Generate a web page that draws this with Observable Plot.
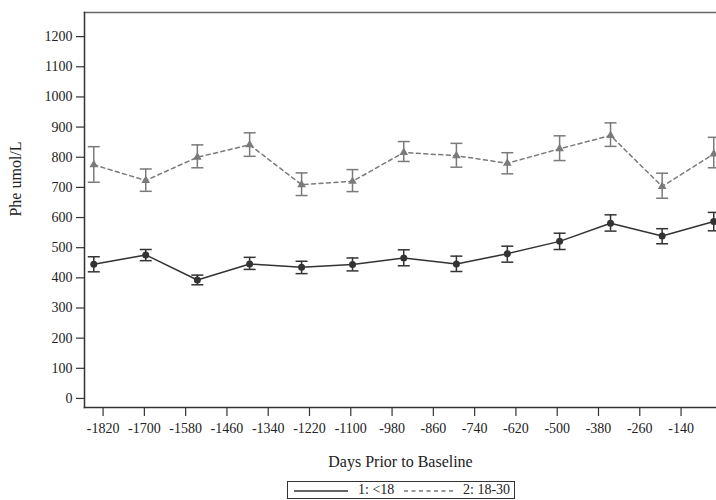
<!DOCTYPE html>
<html>
<head>
<meta charset="utf-8">
<script src="https://cdn.jsdelivr.net/npm/d3@7"></script>
<script src="https://cdn.jsdelivr.net/npm/@observablehq/plot@0.6"></script>
<style>
  html, body { margin: 0; padding: 0; background: #fff; }
  #wrap { position: relative; width: 716px; height: 500px; overflow: hidden; font-family: 'Liberation Serif', serif; }
  #legend { position: absolute; left: 287px; top: 481px; width: 228px; height: 18px; border: 1px solid #333; box-sizing: border-box; }
  #legend .t { position: absolute; top: -1px; font-size: 14px; color: #222; line-height: 18px; white-space: nowrap; }
</style>
</head>
<body>
<div id="wrap">
  <div id="chart"></div>
  <div id="legend">
    <svg width="228" height="18" style="position:absolute;left:0;top:0">
      <line x1="6" x2="60" y1="9" y2="9" stroke="#333" stroke-width="1.5"></line>
      <line x1="116" x2="168" y1="9" y2="9" stroke="#777" stroke-width="1.5" stroke-dasharray="4,3.5"></line>
    </svg>
    <span class="t" style="left:70px">1: &lt;18</span>
    <span class="t" style="left:175px">2: 18-30</span>
  </div>
</div>
<script>
// ---- data ----
const days = [-1847, -1696, -1546, -1394, -1243, -1095, -946, -793, -645, -493, -345, -195, -45];
const g1Mean  = [445, 476, 393, 446, 435, 444, 466, 446, 480, 521, 581, 539, 587];
const g1Lower = [420, 457, 377, 428, 414, 423, 440, 421, 452, 494, 555, 513, 556];
const g1Upper = [470, 494, 409, 468, 455, 466, 493, 472, 505, 548, 609, 563, 617];
const g2Mean  = [775, 723, 800, 841, 709, 720, 816, 805, 780, 828, 872, 703, 811];
const g2Lower = [717, 687, 765, 803, 673, 686, 786, 767, 745, 789, 836, 664, 765];
const g2Upper = [835, 761, 841, 881, 748, 759, 852, 846, 815, 871, 914, 747, 866];
const groups = ["1: <18", "2: 18-30"];
const xTicks = [-1820, -1700, -1580, -1460, -1340, -1220, -1100, -980, -860, -740, -620, -500, -380, -260, -140];
const yTicks = [0, 100, 200, 300, 400, 500, 600, 700, 800, 900, 1000, 1100, 1200];

const g1 = days.map((d, i) => ({day: d, mean: g1Mean[i], lo: g1Lower[i], hi: g1Upper[i], group: groups[0]}));
const g2 = days.map((d, i) => ({day: d, mean: g2Mean[i], lo: g2Lower[i], hi: g2Upper[i], group: groups[1]}));

// horizontal cap symbol for error bars
const cap = {
  draw(context, size) {
    const r = Math.sqrt(size / Math.PI);
    context.moveTo(-r, 0);
    context.lineTo(r, 0);
  }
};

const c1 = "#333", c2 = "#7a7a7a";

function series(data, color, dash, symbol, r) {
  return [
    Plot.ruleX(data, {x: "day", y1: "lo", y2: "hi", stroke: color, strokeWidth: 1.5}),
    Plot.dot(data, {x: "day", y: "lo", symbol: cap, r: 6, stroke: color, strokeWidth: 1.5, fill: "none"}),
    Plot.dot(data, {x: "day", y: "hi", symbol: cap, r: 6, stroke: color, strokeWidth: 1.5, fill: "none"}),
    Plot.line(data, {x: "day", y: "mean", stroke: color, strokeWidth: 1.5, strokeDasharray: dash}),
    Plot.dot(data, {x: "day", y: "mean", symbol: symbol, r: r, fill: color, stroke: "none"})
  ];
}

const chart = Plot.plot({
  width: 716,
  height: 476,
  marginLeft: 84,
  marginRight: 0,
  marginTop: 12,
  marginBottom: 69,
  style: {fontFamily: "'Liberation Serif', serif", fontSize: "14px", color: "#222", background: "#fff", overflow: "visible"},
  x: {domain: [-1874, -37]},
  y: {domain: [-30, 1280]},
  marks: [
    Plot.frame({anchor: "top", stroke: "#666", strokeWidth: 1.5}),
    Plot.frame({anchor: "left", stroke: "#333", strokeWidth: 1.5}),
    Plot.frame({anchor: "bottom", stroke: "#333", strokeWidth: 1.5}),
    Plot.axisX({ticks: xTicks, tickFormat: d => String(d), tickSize: 9, tickPadding: 7, label: null, stroke: "#333", strokeWidth: 1.2, fontSize: 14}),
    Plot.axisY({ticks: yTicks, tickFormat: d => String(d), tickSize: 8, tickPadding: 4, label: null, stroke: "#333", strokeWidth: 1.2, fontSize: 14}),
    ...series(g2, c2, "4,3.5", "triangle", 3.2),
    ...series(g1, c1, null, "circle", 3.5),
    Plot.text(["Days Prior to Baseline"], {frameAnchor: "bottom", textAnchor: "middle", lineAnchor: "middle", dy: 54, fontSize: 16, fill: "#222"}),
    Plot.text(["Phe umol/L"], {frameAnchor: "left", textAnchor: "middle", lineAnchor: "middle", rotate: -90, dx: -69, dy: -31, fontSize: 16, fill: "#222"})
  ]
});
document.getElementById("chart").appendChild(chart);
</script>
</body>
</html>
